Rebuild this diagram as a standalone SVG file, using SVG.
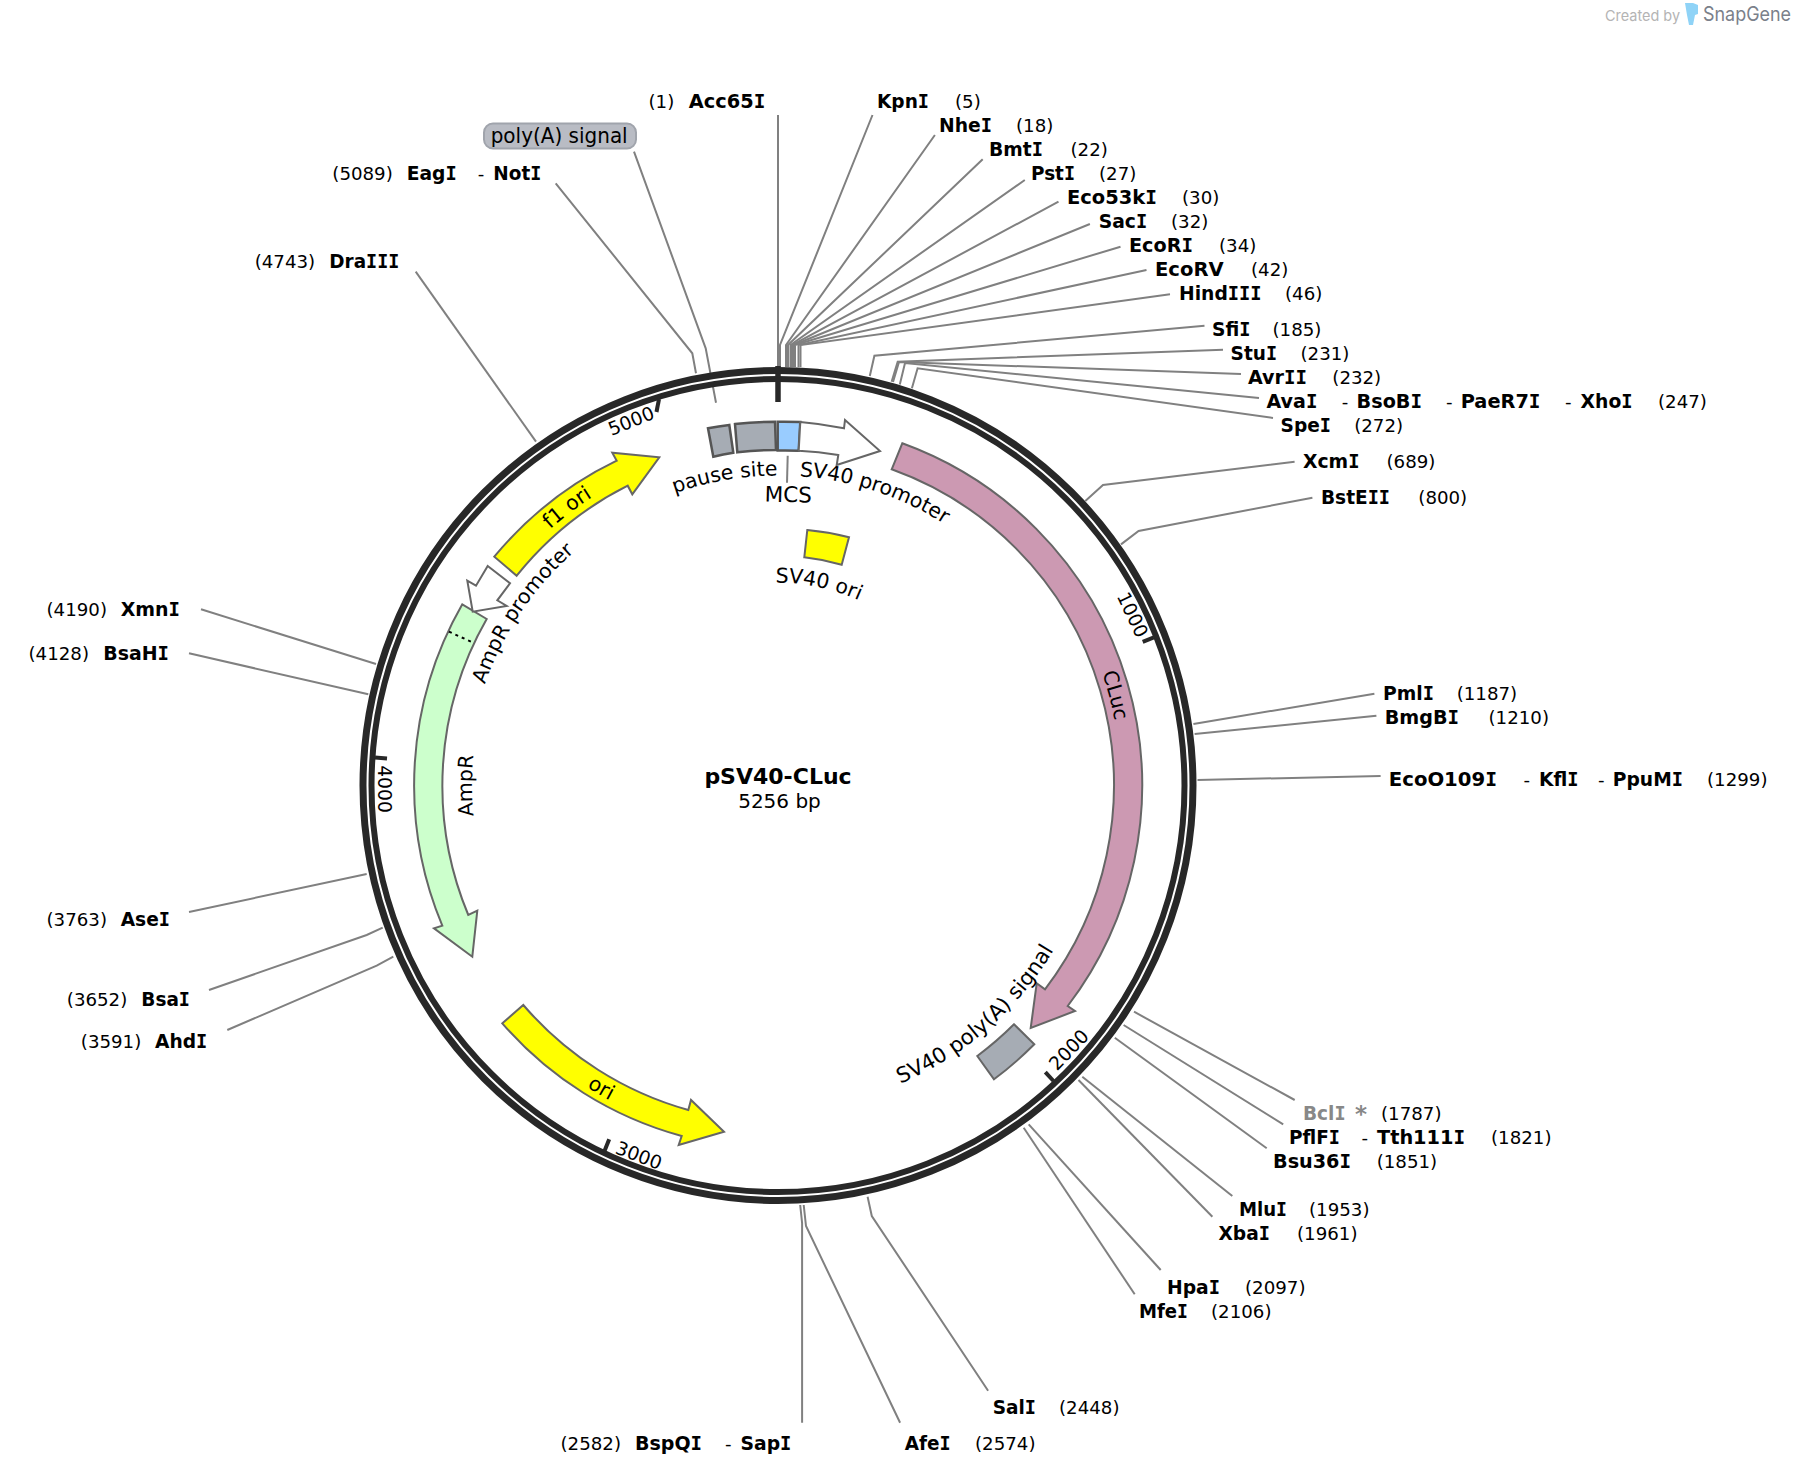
<svg xmlns="http://www.w3.org/2000/svg" width="1798" height="1476" viewBox="0 0 1798 1476">
<style>
text{font-family:"DejaVu Sans",Verdana,sans-serif;fill:#000}
.n{font-size:18.2px}
.b{font-size:20px;font-weight:700}
.i{font-family:"DejaVu Sans Mono",monospace}
.g,.g .i{fill:#888}
.f{font-size:20.4px}
.t{font-size:18.7px;text-anchor:middle}
.c{fill:none;stroke:#808080;stroke-width:2}
.s{stroke:#666;stroke-width:2;stroke-linejoin:miter}
.d{stroke:#555;stroke-width:2.5}
.tk{stroke:#282828;stroke-width:4;fill:none}
</style>
<defs>
<path id="p-pause" d="M623 517A310 310 0 0 1 831.8 480.2"/>
<path id="p-sv40p" d="M778 475.5A310 310 0 0 1 962 536"/>
<path id="p-ori40" d="M738 586A204 204 0 0 1 889 617"/>
<path id="p-f1" d="M474.6 625.5A343 343 0 0 1 705.5 450.2"/>
<path id="p-amppr" d="M468 785.5A310 310 0 0 1 661.9 498.1"/>
<path id="p-amp" d="M513 938.5A306 306 0 0 1 513 632.5"/>
<path id="p-cluc" d="M1059 588.8A343 343 0 0 1 1119.7 815.4"/>
<path id="p-ori" d="M485.6 990.3A357 357 0 0 0 746.9 1141.1"/>
<path id="p-pa" d="M832 1103.6A323 323 0 0 0 1083 885.3"/>
</defs>
<g id="connectors">
<path class="c" d="M778 366V115"/>
<path class="c" d="M780 367V345L872.5 115"/>
<path class="c" d="M786 367V345L934.9 135"/>
<path class="c" d="M788 367V345L982.7 159.3"/>
<path class="c" d="M790.5 367V345L1024.8 180"/>
<path class="c" d="M792 367V345L1058.5 201.7"/>
<path class="c" d="M793.5 367V345L1089.9 224"/>
<path class="c" d="M795 367V345L1120.5 246.7"/>
<path class="c" d="M798.5 367V345L1146.5 270"/>
<path class="c" d="M800.5 367V345L1170 294.3"/>
<path class="c" d="M869.8 376L874.4 355.7L1204.5 325.7"/>
<path class="c" d="M891.6 381.7L897.7 361.7L1223 349.7"/>
<path class="c" d="M893 382L899 362L1241 374"/>
<path class="c" d="M899.8 384.6L905 363L1259 398"/>
<path class="c" d="M911.9 388.3L917.6 368.3L1273 418"/>
<path class="c" d="M1085.3 500.9L1103 485L1294.6 461.7"/>
<path class="c" d="M1121 544.4L1138.6 531L1312.4 497.7"/>
<path class="c" d="M1193.4 724L1374.4 693.7"/>
<path class="c" d="M1194.6 734L1376.4 715.7"/>
<path class="c" d="M1197.5 780L1380.6 776"/>
<path class="c" d="M1134 1011.7L1294.7 1100"/>
<path class="c" d="M1123.6 1025L1283.2 1124.3"/>
<path class="c" d="M1114.8 1037.7L1266.7 1148.3"/>
<path class="c" d="M1082.3 1076.7L1232.3 1196"/>
<path class="c" d="M1078.5 1080L1212.4 1216.7"/>
<path class="c" d="M1028.7 1124.3L1160.7 1270"/>
<path class="c" d="M1023.7 1127.7L1134.7 1294.3"/>
<path class="c" d="M867.6 1196.7L871.8 1216L988.1 1390.7"/>
<path class="c" d="M803.7 1205L806 1226L900.1 1422.7"/>
<path class="c" d="M800.2 1205L802.1 1223V1422.7"/>
<path class="c" d="M376 664L201 609.3"/>
<path class="c" d="M368.3 694.3L189 653.3"/>
<path class="c" d="M366.7 874L189 912"/>
<path class="c" d="M382.7 927.7L366.7 935L209 990"/>
<path class="c" d="M393.3 956.7L376.7 965.7L227.3 1030"/>
<path class="c" d="M536 441.7L415.7 271.7"/>
<path class="c" d="M696 373.3L692.3 353.3L555.7 183.3"/>
<path class="c" d="M716 402.7L705.7 348.3L634 151.7"/>
<path class="c" d="M787.7 455.7L787 482.7"/>
</g>
<g id="backbone">
<circle cx="778" cy="785.5" r="411" fill="none" stroke="#282828" stroke-width="15"/>
<circle cx="778" cy="785.5" r="410.5" fill="none" stroke="#fff" stroke-width="2"/>
<path d="M778 366V402" stroke="#282828" stroke-width="5.5" fill="none"/>
<path class="tk" d="M1153.9 637.4L1142.7 641.8"/>
<path class="tk" d="M1053.5 1081L1045.3 1072.2"/>
<path class="tk" d="M604.1 1152L609.2 1139.3"/>
<path class="tk" d="M375 757.5L387 758.4"/>
<path class="tk" d="M659 399L656.5 412"/>
<text class="t" transform="translate(1133 614.5) rotate(64.4)" dy="7">1000</text>
<text class="t" transform="translate(1068.5 1049.5) rotate(-46)" dy="7">2000</text>
<text class="t" transform="translate(639 1155) rotate(20.8)" dy="7">3000</text>
<text class="t" transform="translate(385 789) rotate(90)" dy="7">4000</text>
<text class="t" transform="translate(631 420.5) rotate(-22)" dy="7">5000</text>
</g>
<g id="title">
<text x="778" y="784" text-anchor="middle" font-size="22" font-weight="700">pSV40-CLuc</text>
<text x="779.5" y="808" text-anchor="middle" font-size="20">5256 bp</text>
</g>
<g id="f-pause"><path class="d" fill="#a6acb4" d="M708 428.3A364 364 0 0 1 729.3 425L733.3 452.7A335 335 0 0 0 713.3 456.7Z"/><text class="f"><textPath href="#p-pause" startOffset="50.5%" text-anchor="middle">pause site</textPath></text></g>
<g id="f-polya"><path class="d" fill="#a6acb4" d="M735 424A364 364 0 0 1 775 421.7L776 450A335 335 0 0 0 737.3 452.3Z"/></g>
<g id="f-mcs"><path class="d" fill="#99ccff" d="M777.7 421.7A364 364 0 0 1 800.3 422L798.7 450.7A335 335 0 0 0 777.7 450.5Z"/><text text-anchor="middle" transform="translate(788 502) rotate(1.5)" style="font-size:21.5px">MCS</text></g>
<g id="f-sv40p"><path class="s" fill="#fff" d="M800.3 422A364 364 0 0 1 844 428.3L845 420L880 451L836.7 465L838.3 455A335 335 0 0 0 798.7 450.7Z"/><text class="f"><textPath href="#p-sv40p" startOffset="50%" text-anchor="middle">SV40 promoter</textPath></text></g>
<g id="f-ori40"><path class="s" fill="#ff0" d="M807.3 530A258 258 0 0 1 849 537.3L841.7 564.7A230 230 0 0 0 804.3 557.3Z"/><text class="f"><textPath href="#p-ori40" startOffset="51%" text-anchor="middle">SV40 ori</textPath></text></g>
<g id="f-cluc"><path class="s" fill="#cc99b2" d="M902.3 443.3A364 364 0 0 1 1067.7 1006L1075 1011L1030.7 1028L1036.7 983.3L1045 989.3A336 336 0 0 0 891.7 469.3Z"/><text class="f"><textPath href="#p-cluc" startOffset="50%" text-anchor="middle">CLuc</textPath></text></g>
<g id="f-pa"><path class="s" fill="#a6acb4" d="M1014 1024.3L1034.3 1044.3A364 364 0 0 1 994 1079.3L977.3 1056A336 336 0 0 0 1014 1024.3Z"/><text style="font-size:21.2px"><textPath href="#p-pa" startOffset="50%" text-anchor="middle">SV40 poly(A) signal</textPath></text></g>
<g id="f-ori"><path class="s" fill="#ff0" d="M523.3 1005A336 336 0 0 0 688.3 1110L691 1100L724 1131.7L678.7 1145L681.7 1136A364 364 0 0 1 502.3 1023.3Z"/><text class="f"><textPath href="#p-ori" startOffset="49.5%" text-anchor="middle">ori</textPath></text></g>
<g id="f-amp"><path class="s" fill="#ccffcc" d="M462.3 604.3A364 364 0 0 0 442.3 925.7L434 928.3L472.3 956.7L477.3 910.7L468.3 915A335.5 335.5 0 0 1 486.7 619Z"/><path d="M449 631.7L473.3 642.7" stroke="#000" stroke-width="2" stroke-dasharray="3 4" fill="none"/><text class="f"><textPath href="#p-amp" startOffset="50%" text-anchor="middle">AmpR</textPath></text></g>
<g id="f-amppr"><path class="s" fill="#fff" d="M487.7 566L510 583.3L497.3 600.3L506.7 606L472.7 611.7L467.3 580.7L476 585.7Z"/><text class="f"><textPath href="#p-amppr" startOffset="50%" text-anchor="middle">AmpR promoter</textPath></text></g>
<g id="f-f1"><path class="s" fill="#ff0" d="M494.3 556.7A364 364 0 0 1 616.7 460.7L612.3 452.7L659.3 457.3L632.3 494.3L627.7 485.7A335.5 335.5 0 0 0 516.7 575.7Z"/><text class="f"><textPath href="#p-f1" startOffset="50%" text-anchor="middle">f1 ori</textPath></text></g>
<g id="f-polyA-label"><rect x="484" y="123.5" width="152" height="25" rx="9" fill="#b9bcc4" stroke="#a0a4ac" stroke-width="2"/><text x="490.7" y="143.3" font-size="21" textLength="137" lengthAdjust="spacingAndGlyphs">poly(A) signal</text></g>
<g id="e-Acc65I"><text class="n" x="648.5" y="108">(1)</text><text class="b" x="688.8" y="108" textLength="76.5" lengthAdjust="spacingAndGlyphs">Acc65<tspan class="i">I</tspan></text></g>
<g id="e-KpnI"><text class="b" x="877" y="108" textLength="52" lengthAdjust="spacingAndGlyphs">Kpn<tspan class="i">I</tspan></text><text class="n" x="955" y="108">(5)</text></g>
<g id="e-NheI"><text class="b" x="939" y="132" textLength="53" lengthAdjust="spacingAndGlyphs">Nhe<tspan class="i">I</tspan></text><text class="n" x="1016" y="132">(18)</text></g>
<g id="e-BmtI"><text class="b" x="989" y="156" textLength="54" lengthAdjust="spacingAndGlyphs">Bmt<tspan class="i">I</tspan></text><text class="n" x="1070.5" y="156">(22)</text></g>
<g id="e-PstI"><text class="b" x="1031" y="180" textLength="44" lengthAdjust="spacingAndGlyphs">Pst<tspan class="i">I</tspan></text><text class="n" x="1099" y="180">(27)</text></g>
<g id="e-Eco53kI"><text class="b" x="1067" y="204" textLength="90" lengthAdjust="spacingAndGlyphs">Eco53k<tspan class="i">I</tspan></text><text class="n" x="1182" y="204">(30)</text></g>
<g id="e-SacI"><text class="b" x="1098.7" y="228" textLength="48.5" lengthAdjust="spacingAndGlyphs">Sac<tspan class="i">I</tspan></text><text class="n" x="1171" y="228">(32)</text></g>
<g id="e-EcoRI"><text class="b" x="1129" y="252" textLength="64" lengthAdjust="spacingAndGlyphs">EcoR<tspan class="i">I</tspan></text><text class="n" x="1219" y="252">(34)</text></g>
<g id="e-EcoRV"><text class="b" x="1155" y="276" textLength="68.6" lengthAdjust="spacingAndGlyphs">EcoRV</text><text class="n" x="1251" y="276">(42)</text></g>
<g id="e-HindIII"><text class="b" x="1179" y="300" textLength="82.6" lengthAdjust="spacingAndGlyphs">Hind<tspan class="i">III</tspan></text><text class="n" x="1285" y="300">(46)</text></g>
<g id="e-SfiI"><text class="b" x="1212" y="336" textLength="38.4" lengthAdjust="spacingAndGlyphs">Sfi<tspan class="i">I</tspan></text><text class="n" x="1272.5" y="336">(185)</text></g>
<g id="e-StuI"><text class="b" x="1230.6" y="360" textLength="46.4" lengthAdjust="spacingAndGlyphs">Stu<tspan class="i">I</tspan></text><text class="n" x="1300.5" y="360">(231)</text></g>
<g id="e-AvrII"><text class="b" x="1248" y="384" textLength="59" lengthAdjust="spacingAndGlyphs">Avr<tspan class="i">II</tspan></text><text class="n" x="1332.3" y="384">(232)</text></g>
<g id="e-AvaI"><text class="b" x="1266.5" y="408" textLength="50.9" lengthAdjust="spacingAndGlyphs">Ava<tspan class="i">I</tspan></text><text class="n" x="1341.7" y="408">-</text><text class="b" x="1356.6" y="408" textLength="65.4" lengthAdjust="spacingAndGlyphs">BsoB<tspan class="i">I</tspan></text><text class="n" x="1446" y="408">-</text><text class="b" x="1460.7" y="408" textLength="79.8" lengthAdjust="spacingAndGlyphs">PaeR7<tspan class="i">I</tspan></text><text class="n" x="1565" y="408">-</text><text class="b" x="1580.6" y="408" textLength="52" lengthAdjust="spacingAndGlyphs">Xho<tspan class="i">I</tspan></text><text class="n" x="1658" y="408">(247)</text></g>
<g id="e-SpeI"><text class="b" x="1280.6" y="432" textLength="50.4" lengthAdjust="spacingAndGlyphs">Spe<tspan class="i">I</tspan></text><text class="n" x="1354.2" y="432">(272)</text></g>
<g id="e-XcmI"><text class="b" x="1303" y="468" textLength="56.5" lengthAdjust="spacingAndGlyphs">Xcm<tspan class="i">I</tspan></text><text class="n" x="1386.5" y="468">(689)</text></g>
<g id="e-BstEII"><text class="b" x="1321" y="504" textLength="69" lengthAdjust="spacingAndGlyphs">BstE<tspan class="i">II</tspan></text><text class="n" x="1418.3" y="504">(800)</text></g>
<g id="e-PmlI"><text class="b" x="1383" y="700" textLength="51" lengthAdjust="spacingAndGlyphs">Pml<tspan class="i">I</tspan></text><text class="n" x="1456.7" y="700">(1187)</text></g>
<g id="e-BmgBI"><text class="b" x="1384.7" y="724" textLength="74.3" lengthAdjust="spacingAndGlyphs">BmgB<tspan class="i">I</tspan></text><text class="n" x="1488.5" y="724">(1210)</text></g>
<g id="e-EcoO109I"><text class="b" x="1388.8" y="786" textLength="108.2" lengthAdjust="spacingAndGlyphs">EcoO109<tspan class="i">I</tspan></text><text class="n" x="1523.5" y="786">-</text><text class="b" x="1539" y="786" textLength="39.5" lengthAdjust="spacingAndGlyphs">Kfl<tspan class="i">I</tspan></text><text class="n" x="1598" y="786">-</text><text class="b" x="1612.8" y="786" textLength="70.2" lengthAdjust="spacingAndGlyphs">PpuM<tspan class="i">I</tspan></text><text class="n" x="1707" y="786">(1299)</text></g>
<g id="e-BclI"><text class="b g" x="1303" y="1120" textLength="42.6" lengthAdjust="spacingAndGlyphs">Bcl<tspan class="i">I</tspan></text><text class="b g" x="1355" y="1122" style="font-size:23px">*</text><text class="n" x="1381" y="1120">(1787)</text></g>
<g id="e-PflFI"><text class="b" x="1289" y="1144" textLength="51" lengthAdjust="spacingAndGlyphs">PflF<tspan class="i">I</tspan></text><text class="n" x="1361.6" y="1144">-</text><text class="b" x="1377" y="1144" textLength="88" lengthAdjust="spacingAndGlyphs">Tth111<tspan class="i">I</tspan></text><text class="n" x="1491" y="1144">(1821)</text></g>
<g id="e-Bsu36I"><text class="b" x="1273" y="1168" textLength="78" lengthAdjust="spacingAndGlyphs">Bsu36<tspan class="i">I</tspan></text><text class="n" x="1376.7" y="1168">(1851)</text></g>
<g id="e-MluI"><text class="b" x="1239" y="1216" textLength="48" lengthAdjust="spacingAndGlyphs">Mlu<tspan class="i">I</tspan></text><text class="n" x="1309" y="1216">(1953)</text></g>
<g id="e-XbaI"><text class="b" x="1218.5" y="1240" textLength="51.5" lengthAdjust="spacingAndGlyphs">Xba<tspan class="i">I</tspan></text><text class="n" x="1297" y="1240">(1961)</text></g>
<g id="e-HpaI"><text class="b" x="1167" y="1294" textLength="53" lengthAdjust="spacingAndGlyphs">Hpa<tspan class="i">I</tspan></text><text class="n" x="1245" y="1294">(2097)</text></g>
<g id="e-MfeI"><text class="b" x="1139" y="1318" textLength="49" lengthAdjust="spacingAndGlyphs">Mfe<tspan class="i">I</tspan></text><text class="n" x="1211" y="1318">(2106)</text></g>
<g id="e-SalI"><text class="b" x="992.7" y="1414" textLength="43.3" lengthAdjust="spacingAndGlyphs">Sal<tspan class="i">I</tspan></text><text class="n" x="1059" y="1414">(2448)</text></g>
<g id="e-AfeI"><text class="b" x="904.7" y="1450" textLength="45.9" lengthAdjust="spacingAndGlyphs">Afe<tspan class="i">I</tspan></text><text class="n" x="975" y="1450">(2574)</text></g>
<g id="e-BspQI"><text class="n" x="560.5" y="1450">(2582)</text><text class="b" x="635" y="1450" textLength="67" lengthAdjust="spacingAndGlyphs">BspQ<tspan class="i">I</tspan></text><text class="n" x="725" y="1450">-</text><text class="b" x="740.5" y="1450" textLength="50.9" lengthAdjust="spacingAndGlyphs">Sap<tspan class="i">I</tspan></text></g>
<g id="e-EagI"><text class="n" x="332.3" y="180">(5089)</text><text class="b" x="406.7" y="180" textLength="50" lengthAdjust="spacingAndGlyphs">Eag<tspan class="i">I</tspan></text><text class="n" x="477.7" y="180">-</text><text class="b" x="493.3" y="180" textLength="48" lengthAdjust="spacingAndGlyphs">Not<tspan class="i">I</tspan></text></g>
<g id="e-DraIII"><text class="n" x="254.7" y="268">(4743)</text><text class="b" x="329.3" y="268" textLength="70" lengthAdjust="spacingAndGlyphs">Dra<tspan class="i">III</tspan></text></g>
<g id="e-XmnI"><text class="n" x="46.5" y="616">(4190)</text><text class="b" x="120.7" y="616" textLength="59.3" lengthAdjust="spacingAndGlyphs">Xmn<tspan class="i">I</tspan></text></g>
<g id="e-BsaHI"><text class="n" x="28.5" y="660">(4128)</text><text class="b" x="103.3" y="660" textLength="65.7" lengthAdjust="spacingAndGlyphs">BsaH<tspan class="i">I</tspan></text></g>
<g id="e-AseI"><text class="n" x="46.5" y="926">(3763)</text><text class="b" x="120.7" y="926" textLength="49.3" lengthAdjust="spacingAndGlyphs">Ase<tspan class="i">I</tspan></text></g>
<g id="e-BsaI"><text class="n" x="66.8" y="1006">(3652)</text><text class="b" x="141.3" y="1006" textLength="48.7" lengthAdjust="spacingAndGlyphs">Bsa<tspan class="i">I</tspan></text></g>
<g id="e-AhdI"><text class="n" x="80.8" y="1048">(3591)</text><text class="b" x="155" y="1048" textLength="52.3" lengthAdjust="spacingAndGlyphs">Ahd<tspan class="i">I</tspan></text></g>
<g id="watermark">
<text x="1605" y="21" style="font-family:Inter,'Liberation Sans',sans-serif;fill:#b4b4b4" font-size="15" textLength="75" lengthAdjust="spacingAndGlyphs">Created by</text>
<path d="M1685 3H1693L1698 5V14L1695 15L1693 25H1689L1687 15Z" fill="#8fd3f7"/>
<text x="1703" y="21" style="font-family:Inter,'Liberation Sans',sans-serif;fill:#7a808a" font-size="20" textLength="88" lengthAdjust="spacingAndGlyphs">SnapGene</text>
</g>
</svg>
